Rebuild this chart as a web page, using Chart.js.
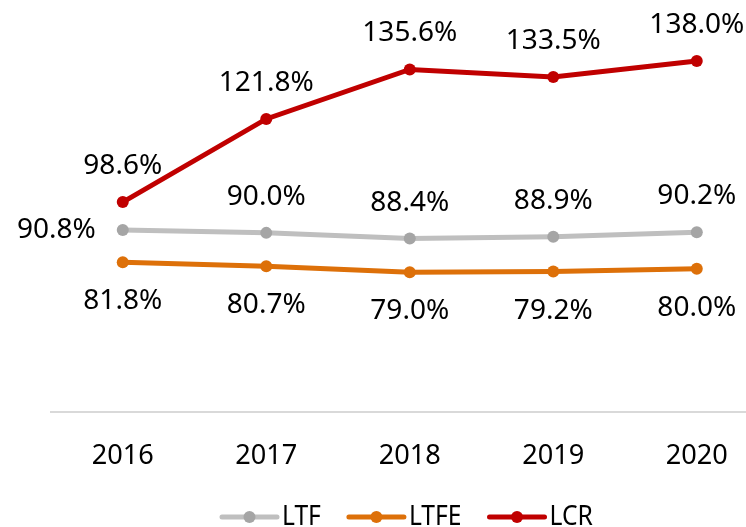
<!DOCTYPE html>
<html>
<head>
<meta charset="utf-8">
<script src="https://cdn.jsdelivr.net/npm/chart.js@4"></script>
<style>
  html, body { margin: 0; padding: 0; background: #fff; }
  #wrap { width: 746px; height: 527px; }
</style>
</head>
<body>
<div id="wrap"><canvas id="myChart" width="746" height="527"></canvas></div>
<script>
var years = [2016, 2017, 2018, 2019, 2020];
var ltf = [90.8, 90.0, 88.4, 88.9, 90.2];
var ltfe = [81.8, 80.7, 79.0, 79.2, 80.0];
var lcr = [98.6, 121.8, 135.6, 133.5, 138.0];

var fontFamily = '"Noto Sans", sans-serif';

function toPoints(values) {
    return values.map(function (v, i) { return { x: years[i], y: v }; });
}

// draws text squeezed horizontally (narrow look for axis and legend)
function narrowText(ctx, txt, x, y, sx, align) {
    ctx.save();
    ctx.translate(x, y);
    ctx.scale(sx, 1);
    ctx.textAlign = align;
    ctx.fillText(txt, 0, 0);
    ctx.restore();
}

// value labels: LCR above, LTF above (first one to the left), LTFE below
const valueLabels = {
    id: 'valueLabels',
    afterDatasetsDraw: function (chart) {
        var ctx = chart.ctx;
        ctx.save();
        ctx.font = '28px ' + fontFamily;
        ctx.fillStyle = '#000';
        ctx.textBaseline = 'middle';
        chart.data.datasets.forEach(function (ds, di) {
            var meta = chart.getDatasetMeta(di);
            meta.data.forEach(function (pt, i) {
                var txt = ds.data[i].y.toFixed(1) + '%';
                var x = pt.x, y = pt.y;
                ctx.textAlign = 'center';
                if (ds.label == 'LTFE') {
                    y = y + 39;
                } else if (ds.label == 'LTF' && i == 0) {
                    ctx.textAlign = 'right';
                    x = x - 27;
                } else {
                    y = y - 36;
                }
                ctx.fillText(txt, x, y);
            });
        });
        ctx.restore();
    }
};

// year labels under the axis
const yearLabels = {
    id: 'yearLabels',
    afterDraw: function (chart) {
        var ctx = chart.ctx;
        var xs = chart.scales.x;
        ctx.save();
        ctx.font = '28px ' + fontFamily;
        ctx.fillStyle = '#000';
        ctx.textBaseline = 'middle';
        years.forEach(function (yr) {
            narrowText(ctx, String(yr), xs.getPixelForValue(yr), 456, 0.97, 'center');
        });
        ctx.restore();
    }
};

// legend with a line and a dot for each series
const lineLegend = {
    id: 'lineLegend',
    afterDraw: function (chart) {
        var ctx = chart.ctx;
        var items = chart.data.datasets;
        var y = 517;
        var lineLen = 55, gap = 5, spacing = 28, sx = 0.88;
        ctx.save();
        ctx.font = '28px ' + fontFamily;
        ctx.textBaseline = 'middle';
        var x = 222;
        items.forEach(function (ds) {
            ctx.strokeStyle = ds.borderColor;
            ctx.lineWidth = 5;
            ctx.lineCap = 'round';
            ctx.beginPath();
            ctx.moveTo(x, y);
            ctx.lineTo(x + lineLen, y);
            ctx.stroke();
            ctx.fillStyle = ds.pointBackgroundColor;
            ctx.beginPath();
            ctx.arc(x + lineLen / 2, y, 6, 0, Math.PI * 2);
            ctx.fill();
            x += lineLen + gap;
            ctx.fillStyle = '#000';
            narrowText(ctx, ds.label, x, y, sx, 'left');
            x += ctx.measureText(ds.label).width * sx + spacing;
        });
        ctx.restore();
    }
};

const config = {
    type: 'line',
    data: {
        datasets: [
            {
                label: 'LTF',
                data: toPoints(ltf),
                borderColor: '#BFBFBF',
                backgroundColor: '#A5A5A5',
                pointBackgroundColor: '#A5A5A5',
                pointBorderColor: '#A5A5A5'
            },
            {
                label: 'LTFE',
                data: toPoints(ltfe),
                borderColor: '#DD7009',
                backgroundColor: '#DD7009',
                pointBackgroundColor: '#DD7009',
                pointBorderColor: '#DD7009'
            },
            {
                label: 'LCR',
                data: toPoints(lcr),
                borderColor: '#C00000',
                backgroundColor: '#C00000',
                pointBackgroundColor: '#C00000',
                pointBorderColor: '#C00000'
            }
        ]
    },
    options: {
        responsive: false,
        animation: false,
        elements: {
            line: { borderWidth: 5, tension: 0 },
            point: { radius: 6, borderWidth: 0, hoverRadius: 6 }
        },
        layout: { autoPadding: false, padding: { left: 51, right: 0, top: 0, bottom: 0 } },
        scales: {
            x: {
                type: 'linear',
                min: 2015.5,
                max: 2020.343,
                afterBuildTicks: function (scale) {
                    scale.ticks = years.map(function (v) { return { value: v }; });
                },
                afterFit: function (scale) {
                    scale.height = 115;
                    scale.paddingLeft = 0;
                    scale.paddingRight = 0;
                },
                grid: { display: false, drawTicks: false },
                border: { display: true, color: '#D9D9D9', width: 2 },
                ticks: { display: false }
            },
            y: {
                display: false,
                min: 40,
                max: 155
            }
        },
        plugins: {
            legend: { display: false },
            tooltip: { enabled: false }
        }
    },
    plugins: [valueLabels, yearLabels, lineLegend]
};

var myChart = new Chart(document.getElementById('myChart'), config);
</script>
</body>
</html>
